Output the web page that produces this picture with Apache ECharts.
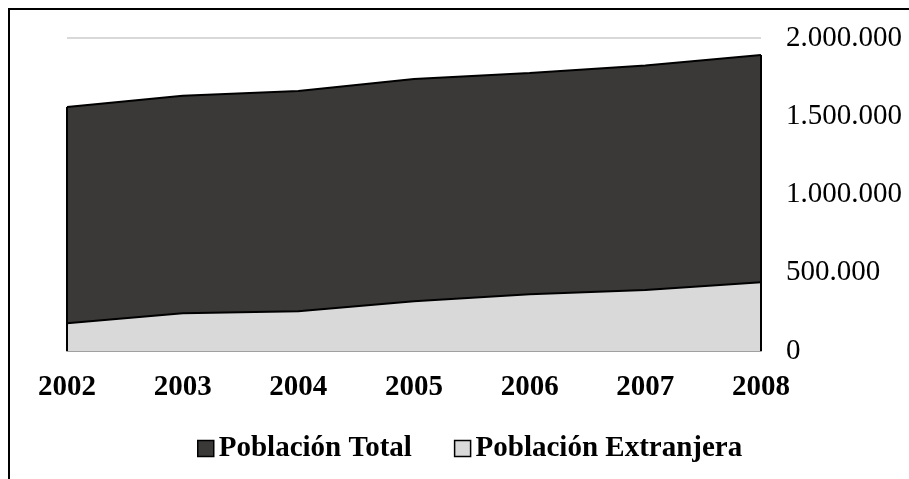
<!DOCTYPE html>
<html>
<head>
<meta charset="utf-8">
<script src="https://cdn.jsdelivr.net/npm/echarts@6/dist/echarts.min.js"></script>
<style>
html,body{margin:0;padding:0;background:#fff;}
#chart{width:909px;height:479px;}
</style>
</head>
<body>
<div id="chart"></div>
<script>
var years = ['2002','2003','2004','2005','2006','2007','2008'];
var poblacionTotal = [1559000, 1631000, 1662000, 1738000, 1777000, 1825000, 1891000];
var poblacionExtranjera = [177000, 241000, 254000, 318000, 363000, 390000, 439000];
var yTicks = [0, 500000, 1000000, 1500000, 2000000];

function fmt(v){
  return String(v).replace(/\B(?=(\d{3})+(?!\d))/g, '.');
}

var FONT = '"Liberation Serif", "Times New Roman", serif';
var DARK = '#3a3938';
var LIGHT = '#d9d9d9';

var chart = echarts.init(document.getElementById('chart'));
var last = years.length - 1;
chart.setOption({
  animation: false,
  backgroundColor: '#fff',
  graphic: [{
    type: 'rect',
    shape: {x: 9, y: 9, width: 1000, height: 1000},
    style: {fill: 'none', stroke: '#000', lineWidth: 2},
    silent: true
  }],
  grid: {left: 67, right: 148, top: 38, bottom: 128, containLabel: false},
  legend: {
    left: 192,
    top: 429,
    icon: 'rect',
    itemWidth: 16,
    itemHeight: 16,
    itemGap: 42,
    textStyle: {fontFamily: FONT, fontSize: 29, fontWeight: 'bold', color: '#000'},
    data: [
      {name: 'Población Total', itemStyle: {color: DARK, borderColor: '#000', borderWidth: 1.5}},
      {name: 'Población Extranjera', itemStyle: {color: LIGHT, borderColor: '#000', borderWidth: 1.5}}
    ]
  },
  xAxis: {
    type: 'category',
    data: years,
    boundaryGap: false,
    axisLine: {show: true, lineStyle: {color: '#a0a0a0', width: 2}},
    axisTick: {show: false},
    axisLabel: {fontFamily: FONT, fontSize: 29, fontWeight: 'bold', color: '#000', margin: 22}
  },
  yAxis: {
    type: 'value',
    position: 'right',
    min: yTicks[0],
    max: yTicks[yTicks.length - 1],
    interval: yTicks[1] - yTicks[0],
    axisLine: {show: false},
    axisTick: {show: false},
    splitLine: {show: true, lineStyle: {color: '#d9d9d9', width: 2}},
    axisLabel: {fontFamily: FONT, fontSize: 29, color: '#000', margin: 25, formatter: fmt}
  },
  series: [
    {
      name: 'Población Total',
      type: 'line',
      data: poblacionTotal,
      symbol: 'none',
      lineStyle: {color: '#000', width: 2},
      itemStyle: {color: DARK},
      areaStyle: {color: DARK, opacity: 1},
      z: 2
    },
    {
      name: 'Población Extranjera',
      type: 'line',
      data: poblacionExtranjera,
      symbol: 'none',
      lineStyle: {color: '#000', width: 2},
      itemStyle: {color: LIGHT},
      areaStyle: {color: LIGHT, opacity: 1},
      z: 3,
      markLine: {
        silent: true,
        symbol: 'none',
        label: {show: false},
        lineStyle: {color: '#000', width: 2, type: 'solid'},
        data: [
          [{coord: [years[0], 0]}, {coord: [years[0], poblacionTotal[0]]}],
          [{coord: [years[last], 0]}, {coord: [years[last], poblacionTotal[last]]}]
        ]
      }
    }
  ]
});
</script>
</body>
</html>
